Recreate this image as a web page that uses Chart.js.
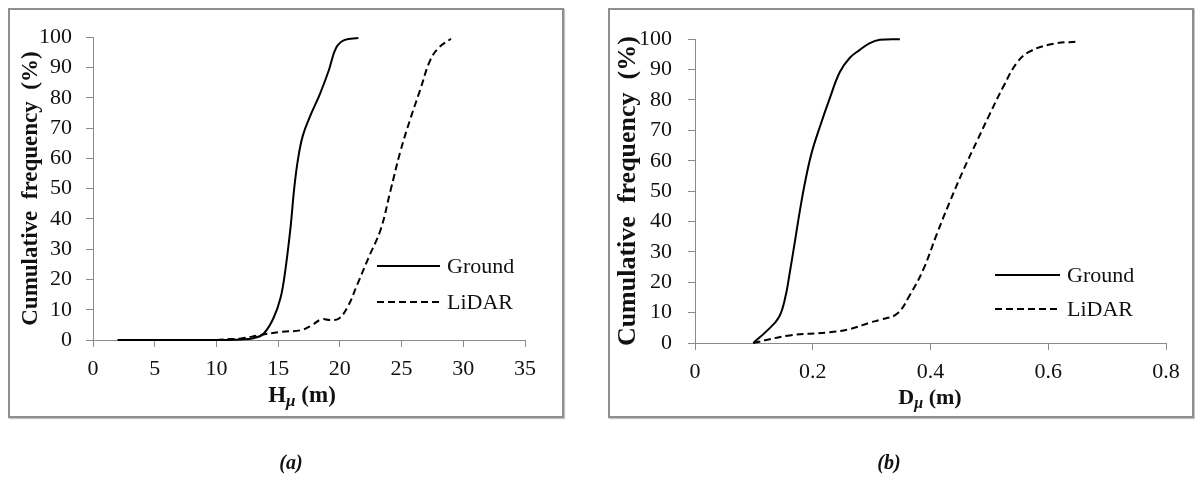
<!DOCTYPE html>
<html>
<head>
<meta charset="utf-8">
<script src="https://cdn.jsdelivr.net/npm/chart.js@4.4.1/dist/chart.umd.min.js"></script>
<style>
    html, body { margin: 0; padding: 0; background: #fff; }
    body { width: 1195px; height: 478px; position: relative; overflow: hidden; font-family: "Liberation Serif", "Times New Roman", serif; }
    .panel { position: absolute; box-sizing: border-box; border: 2px solid #8e8e8e; box-shadow: 1px 1px 1px #c4c4c4; background: #fff; }
    .panel canvas { position: absolute; left: 0; top: 0; }
    .xtitle { position: absolute; transform: translateX(-50%); font-weight: bold; color: #111; white-space: nowrap; }
    .xtitle sub { font-style: italic; line-height: 0; }
    .caption { position: absolute; transform: translateX(-50%); font-weight: bold; font-style: italic; font-size: 20px; color: #111; }
</style>
</head>
<body>
<div class="panel" style="left:8px; top:8px; width:556px; height:410px;">
    <canvas id="chartA" width="552" height="406"></canvas>
</div>
<div class="panel" style="left:608px; top:8px; width:586px; height:410px;">
    <canvas id="chartB" width="582" height="406"></canvas>
</div>
<div class="xtitle" style="left:302px; top:382px; font-size:23px;">H<sub style="font-size:17px; vertical-align:-4px;">μ</sub> (m)</div>
<div class="xtitle" style="left:930px; top:384px; font-size:22px;">D<sub style="font-size:16px; vertical-align:-4px;">μ</sub> (m)</div>
<div class="caption" style="left:291px; top:451px;">(a)</div>
<div class="caption" style="left:889px; top:451px;">(b)</div>

<script>
// Panel (a): mean height H (m) vs cumulative frequency (%)
const hGroundX = [2, 5, 8, 10, 12, 13, 13.8, 14.6, 15.2, 15.6, 16.0, 16.3, 16.6, 17.0, 17.6, 18.4, 19.1, 19.7, 20.4, 21.5];
const hGroundY = [0, 0, 0, 0, 0.2, 0.6, 2, 7, 14, 23.6, 37, 50, 59.5, 67.5, 74, 81.4, 89, 96.5, 99.1, 99.7];
const hLidarX = [2, 5, 8, 10, 11, 12, 13.5, 15.2, 16.8, 17.7, 18.5, 19.2, 19.9, 20.6, 21.4, 22.4, 23.3, 24.1, 24.9, 25.7, 26.5, 27.3, 28.0, 29.0];
const hLidarY = [0, 0, 0, 0, 0.3, 0.5, 1.6, 2.7, 3.2, 4.8, 6.8, 6.6, 7.0, 10.7, 18.2, 27.9, 36.4, 49.3, 62.2, 72.9, 82.5, 92.2, 96.5, 99.5];
const hTicks = [0, 5, 10, 15, 20, 25, 30, 35];

// Panel (b): mean diameter D (m) vs cumulative frequency (%)
const dGroundX = [0.099, 0.122, 0.142, 0.153, 0.161, 0.170, 0.178, 0.187, 0.198, 0.212, 0.229, 0.246, 0.263, 0.280, 0.297, 0.314, 0.348];
const dGroundY = [0, 4, 8.3, 14.7, 23.2, 33.8, 43.4, 53, 62.5, 71.1, 80.6, 89.2, 93.9, 96.5, 98.7, 99.8, 100];
const dLidarX = [0.099, 0.161, 0.229, 0.263, 0.297, 0.314, 0.343, 0.365, 0.388, 0.411, 0.433, 0.456, 0.479, 0.501, 0.524, 0.547, 0.569, 0.609, 0.651];
const dLidarY = [0, 2.5, 3.5, 4.6, 6.7, 7.6, 9.6, 15.8, 24.3, 36, 46.6, 57, 66.5, 75.5, 84.5, 92.3, 96, 98.5, 99.2];
const dTicks = [0, 0.2, 0.4, 0.6, 0.8];

const freqTicks = [0, 10, 20, 30, 40, 50, 60, 70, 80, 90, 100];
const seriesNames = ['Ground', 'LiDAR'];

const serif = '"Liberation Serif", "Times New Roman", serif';
const axisGray = '#8a8a8a';

function toPoints(xs, ys) {
    return xs.map((x, i) => ({ x: x, y: ys[i] }));
}

function lineSet(label, points, dashed) {
    return {
        label: label,
        data: points,
        showLine: true,
        borderColor: '#000',
        borderWidth: 2,
        borderDash: dashed ? [7, 4] : [],
        pointRadius: 0,
        tension: 0.4,
        fill: false,
        clip: false
    };
}

// Legend drawn inside the plot, line sample + label
const lineLegend = {
    id: 'lineLegend',
    afterDraw(chart, args, opts) {
        const ctx = chart.ctx;
        ctx.save();
        chart.data.datasets.forEach((ds, i) => {
            const y = opts.y + i * opts.rowGap;
            ctx.beginPath();
            ctx.setLineDash(ds.borderDash || []);
            ctx.lineWidth = ds.borderWidth;
            ctx.strokeStyle = ds.borderColor;
            ctx.moveTo(opts.x, y);
            ctx.lineTo(opts.x + opts.sample, y);
            ctx.stroke();
            ctx.setLineDash([]);
            ctx.fillStyle = '#111';
            ctx.font = '22px ' + serif;
            ctx.textBaseline = 'middle';
            ctx.fillText(ds.label, opts.x + opts.sample + 7, y + 1);
        });
        ctx.restore();
    }
};

function makePanel(id, p) {
    const ctx = document.getElementById(id).getContext('2d');
    return new Chart(ctx, {
        type: 'scatter',
        data: {
            datasets: [
                lineSet(seriesNames[0], p.ground, false),
                lineSet(seriesNames[1], p.lidar, true)
            ]
        },
        plugins: [lineLegend],
        options: {
            responsive: false,
            animation: false,
            devicePixelRatio: 1,
            layout: { padding: { left: 0, top: 19, right: p.padRight, bottom: 0 } },
            plugins: {
                legend: { display: false },
                tooltip: { enabled: false },
                lineLegend: p.legend
            },
            scales: {
                x: {
                    type: 'linear',
                    min: p.xTicks[0],
                    max: p.xTicks[p.xTicks.length - 1],
                    afterBuildTicks: s => { s.ticks = p.xTicks.map(v => ({ value: v })); },
                    afterFit: s => { s.height = p.xHeight; },
                    grid: { drawOnChartArea: false, tickLength: 7, color: axisGray },
                    border: { color: axisGray, width: 1 },
                    ticks: {
                        font: { family: serif, size: 22 },
                        color: '#111',
                        padding: 9,
                        maxRotation: 0,
                        autoSkip: false,
                        callback: v => String(v)
                    }
                },
                y: {
                    type: 'linear',
                    min: 0,
                    max: 100,
                    afterBuildTicks: s => { s.ticks = freqTicks.map(v => ({ value: v })); },
                    afterFit: s => { s.width = p.yWidth; },
                    grid: { drawOnChartArea: false, tickLength: 7, color: axisGray },
                    border: { color: axisGray, width: 1 },
                    ticks: {
                        font: { family: serif, size: 22 },
                        color: '#111',
                        padding: p.yPad,
                        autoSkip: false
                    },
                    title: {
                        display: true,
                        text: 'Cumulative  frequency  (%)',
                        font: { family: serif, size: p.titleSize, weight: 'bold' },
                        color: '#111',
                        padding: { top: p.titlePad, bottom: 0 }
                    }
                }
            }
        }
    });
}

makePanel('chartA', {
    ground: toPoints(hGroundX, hGroundY),
    lidar: toPoints(hLidarX, hLidarY),
    xTicks: hTicks,
    padRight: 37,
    xHeight: 76,
    yWidth: 83,
    yPad: 14,
    titleSize: 23,
    titlePad: 7,
    legend: { x: 367, y: 256, rowGap: 36, sample: 63 }
});

makePanel('chartB', {
    ground: toPoints(dGroundX, dGroundY),
    lidar: toPoints(dLidarX, dLidarY),
    xTicks: dTicks,
    padRight: 26,
    xHeight: 73,
    yWidth: 85,
    yPad: 16,
    titleSize: 26,
    titlePad: 3,
    legend: { x: 385, y: 265, rowGap: 34, sample: 65 }
});
</script>
</body>
</html>
